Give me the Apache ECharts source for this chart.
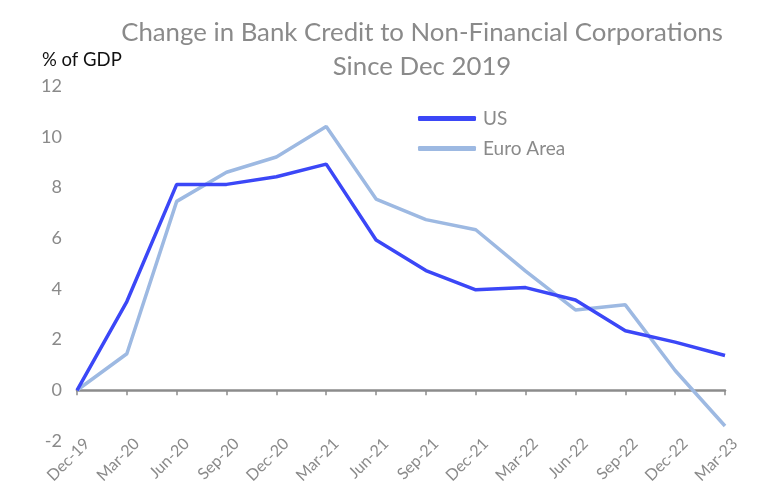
<!DOCTYPE html>
<html><head><meta charset="utf-8">
<script src="https://cdn.jsdelivr.net/npm/echarts@6/dist/echarts.min.js"></script>
<style>html,body{margin:0;padding:0;background:#fff}#c{width:780px;height:500px}</style>
</head><body><div id="c"></div>
<script>
const categories = ['Dec-19','Mar-20','Jun-20','Sep-20','Dec-20','Mar-21','Jun-21','Sep-21','Dec-21','Mar-22','Jun-22','Sep-22','Dec-22','Mar-23'];
const usValues = [0, 3.5, 8.12, 8.12, 8.42, 8.92, 5.93, 4.72, 3.96, 4.05, 3.56, 2.35, 1.9, 1.37];
const euroValues = [0, 1.44, 7.45, 8.6, 9.2, 10.4, 7.54, 6.73, 6.33, 4.7, 3.17, 3.37, 0.78, -1.41];
const yTicks = {min: -2, max: 12, interval: 2};

const chart = echarts.init(document.getElementById('c'));
const gray = '#8a8a8a';
chart.setOption({
  animation: false,
  textStyle: {fontFamily: 'Lato'},
  title: {
    text: 'Change in Bank Credit to Non-Financial Corporations\nSince Dec 2019',
    left: 417, top: 11, textAlign: 'center',
    textStyle: {fontSize: 25.8, fontWeight: 'normal', color: gray, lineHeight: 34, fontFamily: 'Lato'}
  },
  graphic: [{
    type: 'text', left: 42, top: 51,
    style: {text: '% of GDP', fontSize: 18.5, fill: '#111', fontFamily: 'Lato'}
  }],
  legend: {
    orient: 'vertical', left: 413, top: 104,
    itemWidth: 58, itemHeight: 5, itemGap: 11,
    icon: 'roundRect',
    textStyle: {fontSize: 19, color: gray, padding: [0, 0, 0, 2]},
    data: ['US', 'Euro Area']
  },
  grid: {left: 77, right: 55, top: 86, bottom: 59},
  xAxis: [{
    type: 'category', data: categories, boundaryGap: false,
    axisLine: {show: false, onZero: false},
    axisTick: {show: false},
    axisLabel: {rotate: 45, color: gray, fontSize: 16, margin: 10, interval: 0, padding: [0, -14, 0, 0]}
  }, {
    type: 'category', data: categories, boundaryGap: false, position: 'bottom',
    axisLine: {show: true, onZero: true, lineStyle: {color: '#8c8c8c', width: 2.5}},
    axisTick: {show: true, length: 5, lineStyle: {color: '#8c8c8c', width: 1.5}, interval: 0},
    axisLabel: {show: false}
  }],
  yAxis: {
    type: 'value', min: yTicks.min, max: yTicks.max, interval: yTicks.interval,
    axisLine: {show: false}, axisTick: {show: false}, splitLine: {show: false},
    axisLabel: {color: gray, fontSize: 18, margin: 15}
  },
  series: [{
    name: 'US', type: 'line', data: usValues, symbol: 'none',
    lineStyle: {color: '#3b47f7', width: 3.5}, itemStyle: {color: '#3b47f7'}, z: 3
  }, {
    name: 'Euro Area', type: 'line', data: euroValues, symbol: 'none',
    lineStyle: {color: '#9db9e2', width: 3.5}, itemStyle: {color: '#9db9e2'}, z: 2
  }]
});
</script></body></html>
